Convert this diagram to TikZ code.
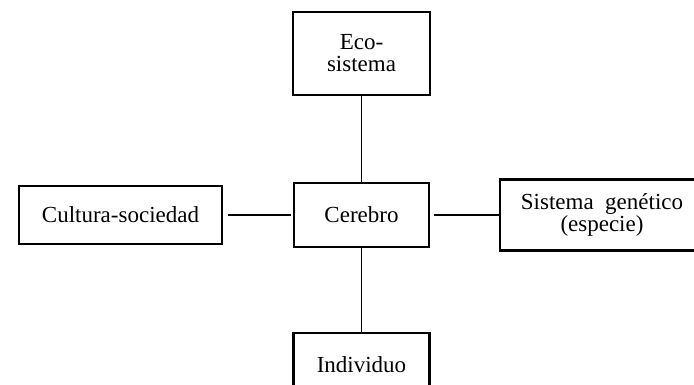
\documentclass[tikz,border=0pt]{standalone}
\usepackage{fontspec}
\setmainfont{Liberation Serif}
\usetikzlibrary{positioning}

\begin{document}
\begin{tikzpicture} [every node/.style={font=\fontsize{23}{22}\selectfont},
                box/.style={draw, line width=2.2pt, align=center, inner sep=0pt},
                on grid,
                auto]

            \useasboundingbox (-361.5pt,215pt) rectangle (332.5pt,-170pt);

            % Cerebro
            \node (cerebro) [box,
                minimum width=135pt, minimum height=64pt] {Cerebro};

            % Eco-sistema
            \node (eco) [box,
                minimum width=137pt, minimum height=83pt,
                above = 161.5pt of cerebro] {Eco-\\sistema};

            % Cultura-sociedad
            \node (cultura) [box,
                minimum width=203pt, minimum height=58pt,
                left = 241pt of cerebro] {Cultura-sociedad};

            % Sistema genetico
            \node (sistema) [box,
                minimum width=204pt, minimum height=71pt,
                right = 240.5pt of cerebro] {Sistema\ \ genético\\(especie)};

            % Individuo
            \node (individuo) [box,
                minimum width=136pt, minimum height=64pt,
                below = 150pt of cerebro] {Individuo};

            % Lines
            \path [draw, line width=1.8pt]
                (eco) edge (cerebro)
                (cerebro) edge (individuo)
                (cultura) edge[shorten <=5pt, shorten >=2pt] (cerebro)
                (cerebro) edge[shorten <=4pt] (sistema);
            \end{tikzpicture}
\end{document}
